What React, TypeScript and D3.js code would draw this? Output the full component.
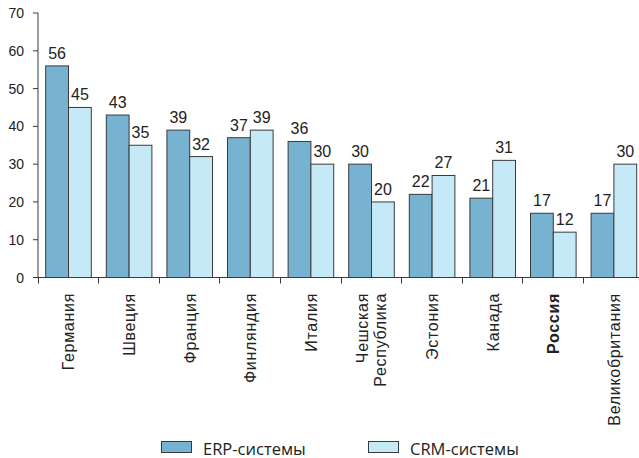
import React from "react";
import * as d3 from "d3";

const categories = ["Германия", "Швеция", "Франция", "Финляндия", "Италия", "Чешская|Республика", "Эстония", "Канада", "Россия", "Великобритания"];
const erpValues = [56, 43, 39, 37, 36, 30, 22, 21, 17, 17];
const crmValues = [45, 35, 32, 39, 30, 20, 27, 31, 12, 30];
const yTicks = [0, 10, 20, 30, 40, 50, 60, 70];
const seriesNames = ["ERP-системы", "CRM-системы"];
const boldCategory = "Россия";

const W = 639, H = 458;
const ERP_COLOR = "#77b3d0";
const CRM_COLOR = "#c6e9f8";
const STROKE = "#3a3a3a";

export default function App() {
  const x = d3.scaleBand<string>().domain(categories).range([37.5, 643.5]).paddingInner(0).paddingOuter(0);
  const y = d3.scaleLinear().domain([0, 70]).range([277.5, 13]);
  const bw = 22.8;
  const off = 8.2;
  const labelFont = "'Liberation Sans Narrow', 'Arial Narrow', 'Liberation Sans', Arial, sans-serif";
  const font = "'Liberation Sans', Arial, Helvetica, sans-serif";
  const legendFont = "'Open Sans', 'DejaVu Sans', sans-serif";
  const series = [erpValues, crmValues];
  const colors = [ERP_COLOR, CRM_COLOR];
  return (
    <svg width={W} height={H} style={{ position: "absolute", left: 0, top: 0, background: "#fff" }}>
      {/* bars */}
      {categories.map((c, i) => (
        <g key={c}>
          {series.map((vals, s) => {
            const bx = (x(c) as number) + off + s * bw;
            const by = y(vals[i]);
            return (
              <g key={s}>
                <rect x={bx} y={by} width={bw} height={y(0) - by} fill={colors[s]} stroke={STROKE} strokeWidth={1} />
                <text x={bx + bw / 2} y={by - 7} textAnchor="middle" fontFamily={labelFont} fontSize={16} fill="#222">{vals[i]}</text>
              </g>
            );
          })}
        </g>
      ))}
      {/* y axis */}
      <line x1={38} x2={38} y1={y(70)} y2={y(0)} stroke={STROKE} strokeWidth={1} />
      {yTicks.map((t) => (
        <g key={t}>
          <line x1={33} x2={38} y1={y(t)} y2={y(t)} stroke={STROKE} strokeWidth={1} />
          <text x={24} y={y(t) + 5} textAnchor="end" fontFamily={font} fontSize={14} fill="#222">{t}</text>
        </g>
      ))}
      {/* x axis */}
      <line x1={33} x2={W} y1={y(0)} y2={y(0)} stroke={STROKE} strokeWidth={1} />
      {categories.map((c) => (
        <line key={c} x1={Math.round(x(c) as number) + 0.5} x2={Math.round(x(c) as number) + 0.5} y1={y(0)} y2={y(0) + 6} stroke={STROKE} strokeWidth={1} />
      ))}
      {categories.map((c) => {
        const lines = c.split("|");
        const cx = (x(c) as number) + x.bandwidth() / 2 + 1.5;
        const lh = 18;
        return (
          <g key={c}>
            {lines.map((ln, k) => {
              const lx = cx + (k - (lines.length - 1) / 2) * lh + 5;
              return (
                <text key={k} transform={`translate(${lx},293) rotate(-90)`} textAnchor="end" fontFamily={font} fontSize={16}
                  style={{ letterSpacing: "0.7px" }}
                  fontWeight={c === boldCategory ? "bold" : "normal"} fill="#222">{ln}</text>
              );
            })}
          </g>
        );
      })}
      {/* legend */}
      {seriesNames.map((n, s) => {
        const lx = s === 0 ? 161 : 368;
        return (
          <g key={n}>
            <rect x={lx + 0.5} y={441.5} width={30} height={11} fill={colors[s]} stroke={STROKE} strokeWidth={1} />
            <text x={lx + 42} y={454.5} fontFamily={legendFont} fontSize={16.5} fill="#222">{n}</text>
          </g>
        );
      })}
    </svg>
  );
}
